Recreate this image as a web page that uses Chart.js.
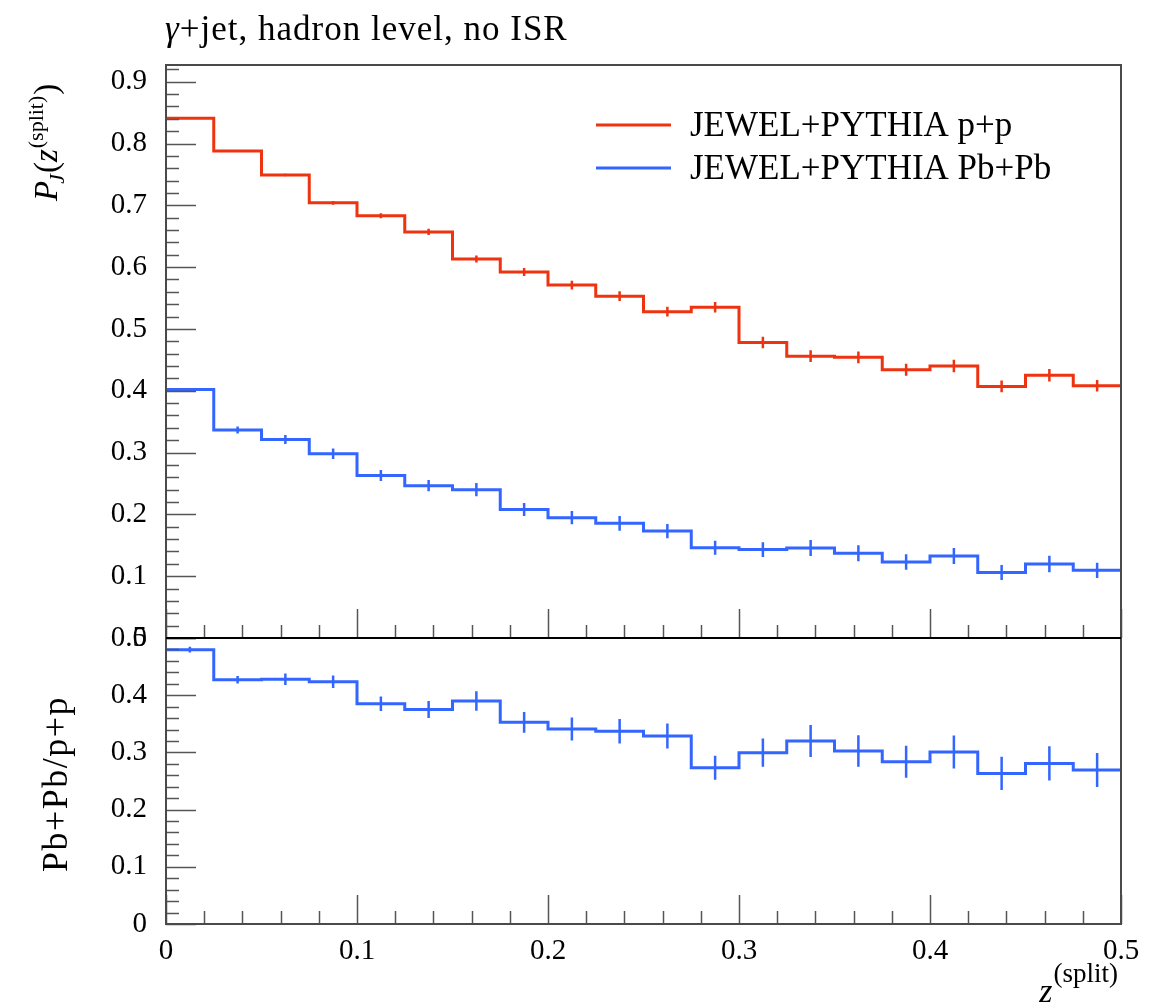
<!DOCTYPE html>
<html><head><meta charset="utf-8">
<script src="https://cdn.jsdelivr.net/npm/chart.js@4.4.1/dist/chart.umd.min.js"></script>
<style>
html,body{margin:0;padding:0;background:#fff;}
#wrap{position:relative;width:1170px;height:1004px;overflow:hidden;background:#fff;}
canvas{position:absolute;left:0;}
#c1{top:0;}
#c2{top:600px;}
</style></head><body>
<div id="wrap"><canvas id="c1" width="1170" height="700"></canvas><canvas id="c2" width="1170" height="404"></canvas></div>
<script>
// ---- data ----
const binEdges = [0, 0.025, 0.05, 0.075, 0.1, 0.125, 0.15, 0.175, 0.2, 0.225, 0.25,
                  0.275, 0.3, 0.325, 0.35, 0.375, 0.4, 0.425, 0.45, 0.475, 0.5];
const seriesLabels = ['JEWEL+PYTHIA p+p', 'JEWEL+PYTHIA Pb+Pb'];
const ppVals = [0.841, 0.788, 0.749, 0.704, 0.683, 0.657, 0.613, 0.592, 0.571, 0.553,
                0.528, 0.535, 0.478, 0.456, 0.454, 0.434, 0.440, 0.407, 0.425, 0.408];
const ppErr  = [0.001, 0.0015, 0.002, 0.003, 0.004, 0.005, 0.0057, 0.0065, 0.007, 0.008,
                0.008, 0.0086, 0.0094, 0.0094, 0.0097, 0.0097, 0.0102, 0.0094, 0.0102, 0.0094];
const pbVals = [0.402, 0.3366, 0.321, 0.298, 0.263, 0.2465, 0.240, 0.208, 0.1947, 0.1855,
                0.173, 0.146, 0.143, 0.1456, 0.137, 0.123, 0.1327, 0.106, 0.1197, 0.1095];
const pbErr  = [0.002, 0.0057, 0.0073, 0.0084, 0.0089, 0.0092, 0.0108, 0.0105, 0.0108, 0.012,
                0.0116, 0.0113, 0.0119, 0.013, 0.013, 0.0124, 0.013, 0.012, 0.0132, 0.0124];
const ratioVals = [0.4795, 0.427, 0.428, 0.4236, 0.385, 0.375, 0.390, 0.3525, 0.341, 0.337,
                   0.3287, 0.2733, 0.2995, 0.320, 0.3024, 0.2837, 0.3007, 0.2633, 0.2808, 0.2692];
const ratioErr  = [0.005, 0.0067, 0.010, 0.011, 0.0128, 0.015, 0.017, 0.018, 0.020, 0.0216,
                   0.0219, 0.021, 0.0248, 0.028, 0.0277, 0.028, 0.0289, 0.029, 0.030, 0.0297];
const titleText = '+jet, hadron level, no ISR';
const ratioTitle = 'Pb+Pb/p+p';

// ---- styling ----
const RED = '#EE3311', BLUE = '#3366FF';
const FONT = '"Liberation Serif", "DejaVu Serif", serif';

function stepData(vals) {
  const d = vals.map((v, i) => ({x: binEdges[i], y: v}));
  d.push({x: binEdges[vals.length], y: vals[vals.length - 1]});
  return d;
}
function errData(vals, errs) {
  const d = [];
  vals.forEach((v, i) => {
    const c = (binEdges[i] + binEdges[i + 1]) / 2;
    d.push({x: c, y: v - errs[i]}, {x: c, y: v + errs[i]}, {x: c, y: null});
  });
  return d;
}
function stepDS(label, vals, color) {
  return {label, data: stepData(vals), stepped: true, borderColor: color, borderWidth: 3,
          pointRadius: 0, fill: false, borderJoinStyle: 'miter', borderCapStyle: 'butt'};
}
function errDS(vals, errs, color) {
  return {label: '_err', data: errData(vals, errs), borderColor: color, borderWidth: 2.5,
          pointRadius: 0, fill: false, spanGaps: false, borderCapStyle: 'butt'};
}

function line(ctx, x1, y1, x2, y2) { ctx.beginPath(); ctx.moveTo(x1, y1); ctx.lineTo(x2, y2); ctx.stroke(); }

function makeFrame(isTop) {
  return {
    id: 'frame' + (isTop ? 'T' : 'B'),
    afterDraw(chart) {
      const {ctx, chartArea: a, scales} = chart;
      const xs = scales.x, ys = scales.y;
      ctx.save();
      ctx.strokeStyle = '#555'; ctx.lineWidth = 1.5;
      for (let k = 0; k * 0.02 <= ys.max + 1e-9; k++) {
        const v = k * 0.02, p = Math.round(ys.getPixelForValue(v)) + 0.5;
        const major = k % 5 === 0;
        line(ctx, a.left, p, a.left + (major ? 30 : 13), p);
      }
      for (let k = 0; k * 0.02 <= xs.max + 1e-9; k++) {
        const v = k * 0.02, p = Math.round(xs.getPixelForValue(v)) + 0.5;
        const major = k % 5 === 0;
        line(ctx, p, a.bottom, p, a.bottom - (major ? 29 : 13));
      }
      ctx.strokeStyle = '#4a4a4a'; ctx.lineWidth = 2;
      line(ctx, a.left, a.top, a.left, a.bottom);
      line(ctx, a.right, a.top, a.right, a.bottom);
      if (isTop) { line(ctx, a.left - 1, a.top, a.right + 1, a.top); }
      else { line(ctx, a.left - 1, a.bottom, a.right + 1, a.bottom); }
      ctx.strokeStyle = '#000'; ctx.lineWidth = 2;
      if (isTop) line(ctx, a.left, a.bottom, a.right, a.bottom);
      else line(ctx, a.left, a.top, a.right, a.top);
      ctx.restore();
    }
  };
}

const textTop = {
  id: 'textTop',
  afterDraw(chart) {
    const ctx = chart.ctx;
    ctx.save();
    ctx.fillStyle = '#000'; ctx.textBaseline = 'alphabetic'; ctx.textAlign = 'left';
    // title
    ctx.font = 'italic 35px ' + FONT;
    ctx.fillText('\u03B3', 165, 40);
    let w = ctx.measureText('\u03B3').width;
    ctx.font = '35px ' + FONT;
    ctx.letterSpacing = '1px';
    ctx.fillText(titleText, 165 + w + 1, 40);
    ctx.letterSpacing = '0px';
    // legend
    const ds = chart.data.datasets.filter(d => d.label && d.label[0] !== '_');
    ds.forEach((d, i) => {
      const y = 125 + i * 43;
      ctx.strokeStyle = d.borderColor; ctx.lineWidth = 3;
      line(ctx, 596, y, 671, y);
      ctx.font = '35px ' + FONT;
      ctx.fillText(d.label, 690, y + 11);
    });
    // y title  P_J(z^(split))
    ctx.translate(57, 201); ctx.rotate(-Math.PI / 2);
    let cx = 0;
    ctx.font = 'italic 33px ' + FONT; ctx.fillText('P', cx, 0); cx += ctx.measureText('P').width - 3;
    ctx.font = 'italic 22px ' + FONT; ctx.fillText('J', cx, 7); cx += ctx.measureText('J').width + 1;
    ctx.font = '33px ' + FONT; ctx.fillText('(', cx, 0); cx += ctx.measureText('(').width;
    ctx.font = 'italic 33px ' + FONT; ctx.fillText('z', cx, 0); cx += ctx.measureText('z').width + 1;
    ctx.font = '22px ' + FONT; ctx.fillText('(split)', cx, -14); cx += ctx.measureText('(split)').width + 1;
    ctx.font = '33px ' + FONT; ctx.fillText(')', cx, 0);
    ctx.restore();
  }
};

const textBottom = {
  id: 'textBottom',
  afterDraw(chart) {
    const ctx = chart.ctx;
    const off = 600; // canvas top in page coords
    ctx.save();
    ctx.fillStyle = '#000'; ctx.textBaseline = 'alphabetic';
    // y title
    ctx.save();
    ctx.translate(67, 784 - off); ctx.rotate(-Math.PI / 2);
    ctx.textAlign = 'center'; ctx.font = '36px ' + FONT;
    ctx.letterSpacing = '1.5px';
    ctx.fillText(ratioTitle, 0, 0);
    ctx.restore();
    // x title z^(split), right aligned at 1118
    ctx.textAlign = 'left';
    ctx.font = '27px ' + FONT; const ws = ctx.measureText('(split)').width;
    ctx.font = 'italic 34px ' + FONT; const wz = ctx.measureText('z').width;
    const x0 = 1118 - ws - wz - 1;
    ctx.fillText('z', x0, 1002 - off);
    ctx.font = '27px ' + FONT; ctx.fillText('(split)', x0 + wz + 1, 982 - off);
    ctx.restore();
  }
};

const tickFont = {family: FONT, size: 29};

new Chart(document.getElementById('c1'), {
  type: 'line',
  data: {datasets: [
    stepDS(seriesLabels[0], ppVals, RED),
    stepDS(seriesLabels[1], pbVals, BLUE),
    errDS(ppVals, ppErr, RED),
    errDS(pbVals, pbErr, BLUE)
  ]},
  options: {
    responsive: false, animation: false, devicePixelRatio: 1,
    layout: {padding: {top: 65, right: 49, bottom: 62, left: 0}},
    plugins: {legend: {display: false}, tooltip: {enabled: false}},
    scales: {
      x: {type: 'linear', min: 0, max: 0.5, display: false},
      y: {type: 'linear', min: 0, max: 0.927,
          afterFit(s) { s.width = 166; },
          grid: {display: false, drawTicks: false}, border: {display: false},
          ticks: {stepSize: 0.1, includeBounds: false, padding: 19, font: tickFont, color: '#000'}}
    }
  },
  plugins: [makeFrame(true), textTop]
});

new Chart(document.getElementById('c2'), {
  type: 'line',
  data: {datasets: [
    stepDS('ratio', ratioVals, BLUE),
    errDS(ratioVals, ratioErr, BLUE)
  ]},
  options: {
    responsive: false, animation: false, devicePixelRatio: 1,
    layout: {padding: {top: 38, right: 49, bottom: 0, left: 0}},
    plugins: {legend: {display: false}, tooltip: {enabled: false}},
    scales: {
      x: {type: 'linear', min: 0, max: 0.5,
          afterFit(s) { s.height = 80; },
          grid: {display: false, drawTicks: false}, border: {display: false},
          ticks: {stepSize: 0.1, padding: 10, font: tickFont, color: '#000', maxRotation: 0, autoSkip: false}},
      y: {type: 'linear', min: 0, max: 0.5,
          afterFit(s) { s.width = 166; },
          grid: {display: false, drawTicks: false}, border: {display: false},
          ticks: {stepSize: 0.1, padding: 19, font: tickFont, color: '#000'}}
    }
  },
  plugins: [makeFrame(false), textBottom]
});
</script>
</body></html>
